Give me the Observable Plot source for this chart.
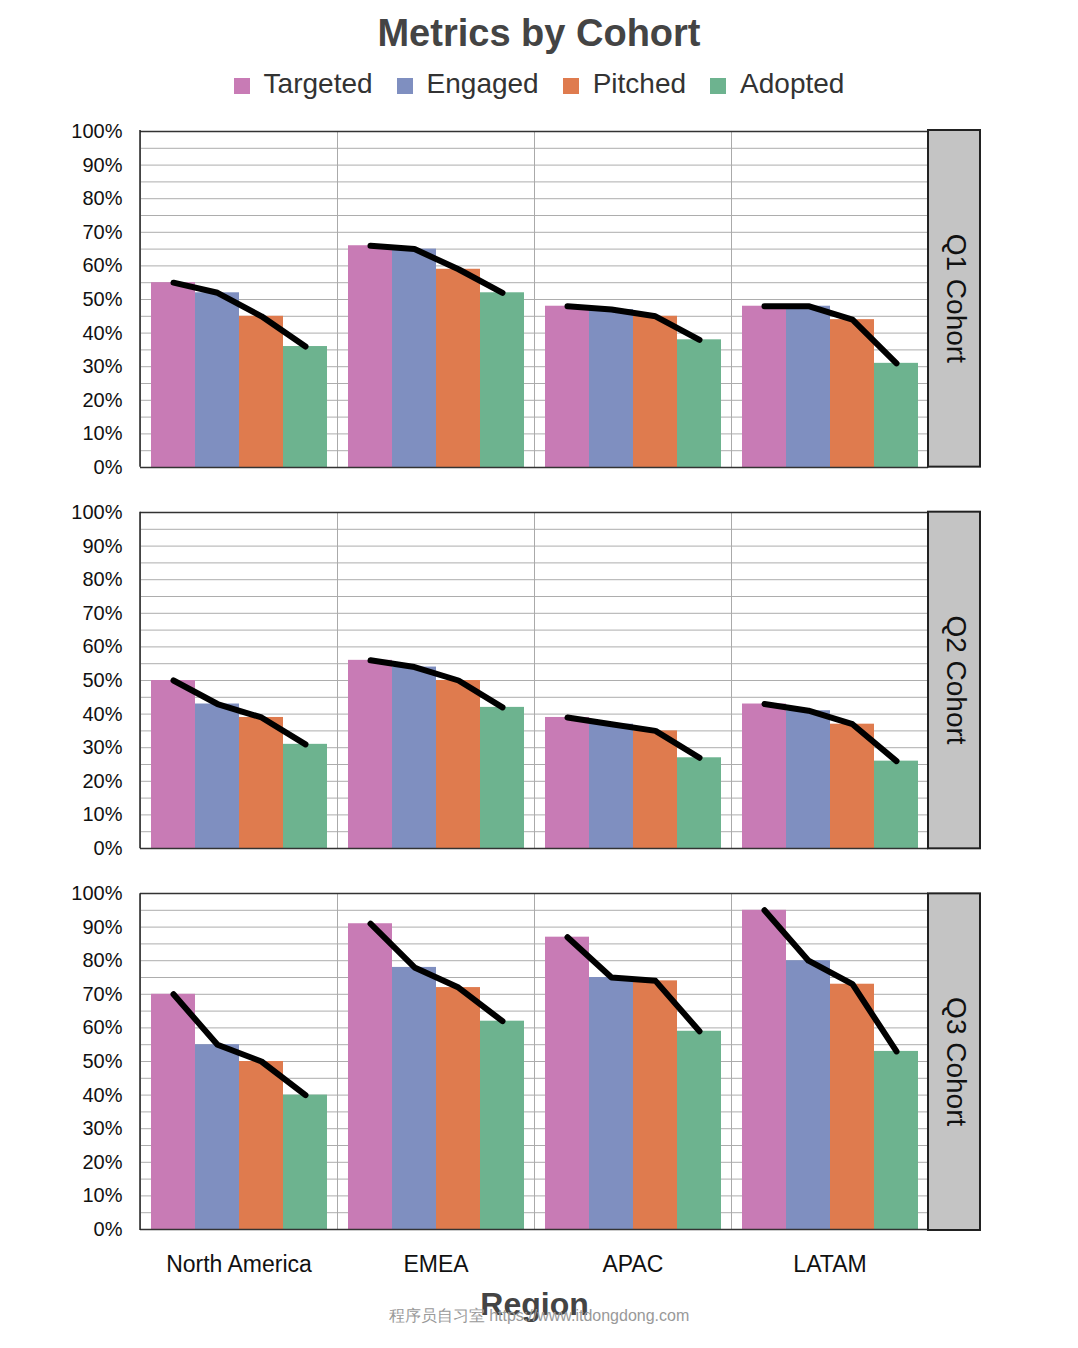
<!DOCTYPE html>
<html><head><meta charset="utf-8">
<script src="https://cdn.jsdelivr.net/npm/d3@7"></script>
<script src="https://cdn.jsdelivr.net/npm/@observablehq/plot@0.6"></script>
<style>
body{margin:0;background:#fff;font-family:"Liberation Sans",Arial,sans-serif;}
#title{height:68px;text-align:center;font-size:38px;font-weight:bold;color:#444;padding-top:12px;box-sizing:border-box}
#legend{height:47px;text-align:center;font-size:28px;color:#333}
#legend span.k{display:inline-block;width:16px;height:16px;margin:0 14px 0 0;vertical-align:middle}
#legend span.i{margin:0 12px}
#wm{position:absolute;top:1306px;width:1078px;text-align:center;font-size:16px;color:#999}
</style></head><body>
<div id="title">Metrics by Cohort</div>
<div id="legend"></div>
<div id="graph"></div>
<div id="wm">程序员自习室 https://www.itdongdong.com</div>
<script>
const metrics = ["Targeted", "Engaged", "Pitched", "Adopted"];
const colors = ["#c87bb5", "#7f8fc0", "#df7b4e", "#6db38f"];
const regions = ["North America", "EMEA", "APAC", "LATAM"];
const cohorts = ["Q1 Cohort", "Q2 Cohort", "Q3 Cohort"];
// values[cohort][region] = [Targeted, Engaged, Pitched, Adopted]
const q1 = [[0.55,0.52,0.45,0.36],[0.66,0.65,0.59,0.52],[0.48,0.47,0.45,0.38],[0.48,0.48,0.44,0.31]];
const q2 = [[0.50,0.43,0.39,0.31],[0.56,0.54,0.50,0.42],[0.39,0.37,0.35,0.27],[0.43,0.41,0.37,0.26]];
const q3 = [[0.70,0.55,0.50,0.40],[0.91,0.78,0.72,0.62],[0.87,0.75,0.74,0.59],[0.95,0.80,0.73,0.53]];
const values = [q1, q2, q3];

const data = [];
cohorts.forEach((c, ci) => regions.forEach((r, ri) => metrics.forEach((m, mi) =>
  data.push({cohort: c, region: r, metric: m, value: values[ci][ri][mi]}))));

d3.select("#legend").html(metrics.map((m, i) =>
  `<span class="i"><span class="k" style="background:${colors[i]}"></span>${m}</span>`).join(""));

const W = 1078, H = 1233, mT = 15, mB = 118, mL = 140, mR = 150, pad = 0.118;

const chart = Plot.plot({
  width: W, height: H,
  marginTop: mT, marginBottom: mB, marginLeft: mL, marginRight: mR,
  style: {fontFamily: "Liberation Sans, Arial, sans-serif", color: "#111"},
  fx: {domain: regions, paddingInner: 0, paddingOuter: 0, label: null},
  fy: {domain: cohorts, paddingInner: pad, paddingOuter: 0, label: null, axis: null},
  x: {domain: metrics, paddingInner: 0, paddingOuter: 0.2, axis: null},
  y: {domain: [0, 1]},
  color: {domain: metrics, range: colors},
  marks: [
    Plot.gridY(d3.range(0, 1.001, 0.05), {stroke: "#999", strokeOpacity: 0.8}),
    Plot.frame({stroke: "#aaa"}),
    Plot.barY(data, {fx: "region", fy: "cohort", x: "metric", y: "value", fill: "metric"}),
    Plot.lineY(data, {fx: "region", fy: "cohort", x: "metric", y: "value", stroke: "black", strokeWidth: 6, z: null}),
    Plot.ruleY([0], {stroke: "#333", strokeWidth: 1.5}),
    Plot.ruleY([1], {stroke: "#333", strokeWidth: 1.5}),
    Plot.axisY({ticks: d3.range(0, 1.001, 0.1), tickFormat: d3.format(".0%"), fontSize: 20, tickSize: 0, tickPadding: 18, label: null}),
    Plot.axisFx({anchor: "bottom", fontSize: 23, tickSize: 0, tickPadding: 26, label: "Region", labelAnchor: "center", labelOffset: 85})
  ]
});
d3.select("#graph").append(() => chart);

// cohort strips on the right
const fy = d3.scaleBand(cohorts, [mT, H - mB]).paddingInner(pad).paddingOuter(0);
const svg = d3.select(chart);
cohorts.forEach(c => {
  const y0 = fy(c), h = fy.bandwidth(), x0 = W - mR;
  svg.append("rect").attr("x", x0).attr("y", y0).attr("width", 52).attr("height", h)
    .attr("fill", "#c4c4c4").attr("stroke", "#222").attr("stroke-width", 2);
  svg.append("line").attr("x1", mL).attr("x2", mL).attr("y1", y0).attr("y2", y0 + h).attr("stroke", "#222").attr("stroke-width", 1.5);
  svg.append("text").attr("transform", `translate(${x0 + 26},${y0 + h / 2}) rotate(90)`)
    .attr("text-anchor", "middle").attr("dominant-baseline", "middle")
    .attr("font-size", 28).attr("fill", "#111").text(c);
});
svg.selectAll("[aria-label='fx-axis label'] text, [aria-label='fx-axis label']")
  .attr("font-size", 32).attr("font-weight", "bold").attr("fill", "#444");
</script>
</body></html>
